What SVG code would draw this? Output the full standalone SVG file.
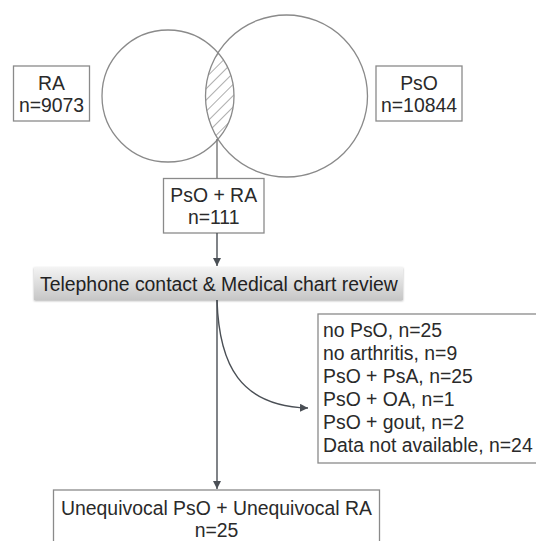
<svg xmlns="http://www.w3.org/2000/svg" width="536" height="541" viewBox="0 0 536 541">
<style>
.box{fill:#fff;stroke:#8a8a8a;stroke-width:1.3}
.circ{fill:none;stroke:#8a8a8a;stroke-width:1.3}
.t{font-family:"Liberation Sans",Arial,sans-serif;font-size:19.4px;fill:#2a2a2a}
.c{text-anchor:middle}
.conn{fill:none;stroke:#4a4f55;stroke-width:1.4}
</style>
<defs>
<marker id="ah" markerUnits="userSpaceOnUse" markerWidth="10" markerHeight="10" refX="8" refY="4" orient="auto">
<path d="M0,0 L8,4 L0,8 Z" fill="#4a4f55"/>
</marker>
<pattern id="hatch" patternUnits="userSpaceOnUse" width="8" height="8" patternTransform="rotate(45)">
<line x1="0" y1="0" x2="0" y2="8" stroke="#808080" stroke-width="1.3"/>
</pattern>
<clipPath id="leftClip"><circle cx="168" cy="96" r="66"/></clipPath>
<linearGradient id="grad" x1="0" y1="0" x2="0" y2="1">
<stop offset="0" stop-color="#f4f4f4"/>
<stop offset="1" stop-color="#c6c6c6"/>
</linearGradient>
<filter id="sh" x="-5%" y="-20%" width="110%" height="150%">
<feGaussianBlur in="SourceAlpha" stdDeviation="1.2"/>
<feOffset dy="1" result="b"/>
<feComponentTransfer><feFuncA type="linear" slope="0.3"/></feComponentTransfer>
<feMerge><feMergeNode/><feMergeNode in="SourceGraphic"/></feMerge>
</filter>
</defs>

<g id="venn">
<circle cx="286.5" cy="96" r="81" fill="url(#hatch)" clip-path="url(#leftClip)"/>
<circle class="circ" cx="168" cy="96" r="66"/>
<circle class="circ" cx="286.5" cy="96" r="81"/>
</g>

<g id="ra">
<rect class="box" x="13.5" y="66" width="76" height="55"/>
<text class="t c" x="51.5" y="90">RA</text>
<text class="t c" x="51.5" y="112">n=9073</text>
</g>

<g id="pso">
<rect class="box" x="376" y="66" width="86" height="55"/>
<text class="t c" x="419" y="90">PsO</text>
<text class="t c" x="419" y="112">n=10844</text>
</g>

<g id="psora">
<rect class="box" x="163.5" y="178.5" width="100.5" height="54.5"/>
<text class="t c" x="213.7" y="202">PsO + RA</text>
<text class="t c" x="213.7" y="224">n=111</text>
</g>

<g id="telephone">
<rect x="34" y="267" width="369" height="33" fill="url(#grad)" filter="url(#sh)"/>
<text class="t" x="40" y="291" style="fill:#222">Telephone contact &amp; Medical chart review</text>
</g>

<g id="excluded">
<rect class="box" x="318" y="314" width="222" height="149"/>
<text class="t" x="323" y="337">no PsO, n=25</text>
<text class="t" x="323" y="360">no arthritis, n=9</text>
<text class="t" x="323" y="383">PsO + PsA, n=25</text>
<text class="t" x="323" y="406">PsO + OA, n=1</text>
<text class="t" x="323" y="429">PsO + gout, n=2</text>
<text class="t" x="323" y="452">Data not available, n=24</text>
</g>

<g id="final">
<rect class="box" x="53.5" y="490" width="326" height="60"/>
<text class="t c" x="216.5" y="515">Unequivocal PsO + Unequivocal RA</text>
<text class="t c" x="216.5" y="537">n=25</text>
</g>

<g id="connectors">
<line class="conn" x1="217" y1="139" x2="217" y2="178.5" style="stroke:#777"/>
<line class="conn" x1="217" y1="233" x2="217" y2="266" marker-end="url(#ah)"/>
<line class="conn" x1="217" y1="300" x2="217" y2="489" marker-end="url(#ah)"/>
<path class="conn" d="M217,300 C219,365 240,406 308,408" marker-end="url(#ah)"/>
</g>
</svg>
